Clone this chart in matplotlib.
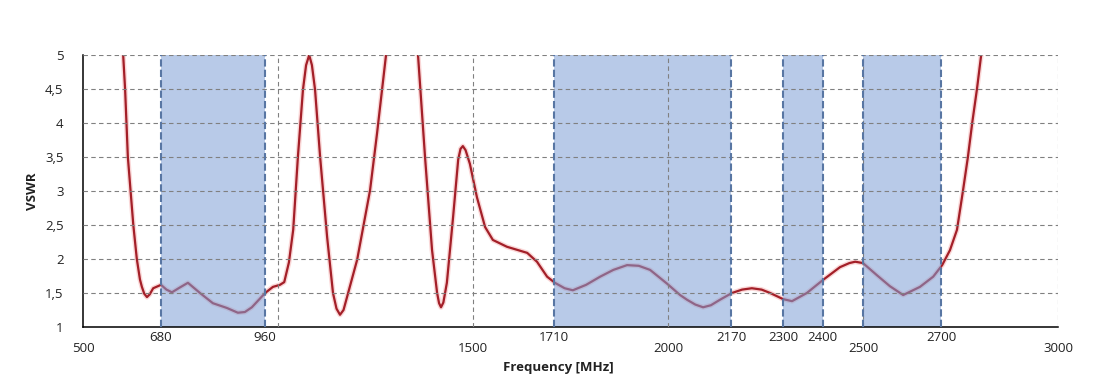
import numpy as np
import matplotlib
matplotlib.use('Agg')
import matplotlib.pyplot as plt
from matplotlib.ticker import FuncFormatter

plt.rcParams['font.family'] = ['Open Sans', 'DejaVu Sans']

# VSWR curve (MHz, VSWR); values above 5 are off-chart
freq = [590, 603, 608, 615, 622, 629, 638, 646, 651, 657, 664, 671, 680, 700, 714,
        728, 748, 769, 800, 833, 869, 897, 915, 933, 967, 987, 1005, 1016, 1028,
        1039, 1051, 1064, 1072, 1080, 1087, 1095, 1108, 1126, 1141, 1150, 1159,
        1168, 1177, 1203, 1236, 1254, 1277, 1300, 1320, 1340, 1359, 1377, 1395,
        1408, 1413, 1418, 1424, 1433, 1449, 1462, 1468, 1474, 1481, 1492, 1510,
        1531, 1551, 1587, 1639, 1664, 1690, 1710, 1735, 1756, 1790, 1826, 1860,
        1895, 1925, 1954, 1997, 2031, 2049, 2070, 2090, 2110, 2133, 2164, 2190,
        2215, 2240, 2262, 2295, 2318, 2356, 2397, 2441, 2465, 2480, 2500, 2536,
        2569, 2603, 2646, 2680, 2703, 2723, 2741, 2756, 2769, 2780, 2792, 2803,
        2815]
vswr = [6.0, 5.0, 4.49, 3.5, 3.0, 2.5, 2.0, 1.7, 1.59, 1.49, 1.44, 1.48, 1.57,
        1.62, 1.55, 1.51, 1.58, 1.65, 1.50, 1.35, 1.28, 1.21, 1.22, 1.29, 1.50,
        1.59, 1.62, 1.66, 1.95, 2.43, 3.5, 4.49, 4.85, 5.0, 4.85, 4.49, 3.5, 2.32,
        1.5, 1.27, 1.18, 1.25, 1.44, 1.99, 3.01, 3.85, 5.0, 6.2, 6.8, 6.2, 5.0,
        3.5, 2.13, 1.5, 1.35, 1.29, 1.36, 1.65, 2.62, 3.46, 3.62, 3.66, 3.6, 3.4,
        2.91, 2.47, 2.28, 2.18, 2.09, 1.96, 1.74, 1.65, 1.57, 1.54, 1.62, 1.74,
        1.84, 1.91, 1.90, 1.84, 1.64, 1.47, 1.40, 1.33, 1.29, 1.32, 1.40, 1.50,
        1.55, 1.57, 1.55, 1.50, 1.41, 1.38, 1.50, 1.69, 1.88, 1.94, 1.96, 1.94,
        1.76, 1.60, 1.47, 1.59, 1.74, 1.91, 2.13, 2.43, 2.99, 3.5, 4.0, 4.49,
        5.0, 6.0]

# shaded bands where the reference draws them, with their nominal labels
band_starts = [700, 1708, 2295, 2500]
band_ends = [967, 2162, 2397, 2700]
edge_pos = [700, 967, 1708, 2162, 2295, 2397, 2700]
edge_labels = ['680', '960', '1710', '2170', '2300', '2400', '2700']

main_ticks = [500, 1500, 2000, 2500, 3000]
grid_x = [1000, 1500, 2000, 2500, 3000]
y_ticks = [1, 1.5, 2, 2.5, 3, 3.5, 4, 4.5, 5]

fig = plt.figure(figsize=(11.1, 3.88), dpi=100)
ax = fig.add_axes([83 / 1110, 1 - 327 / 388, 975 / 1110, 272 / 388])

# curve with a faint glow
ax.plot(freq, vswr, color='#f6b0b0', lw=3.6, alpha=0.5, zorder=1.4,
        solid_capstyle='round', solid_joinstyle='round')
ax.plot(freq, vswr, color='#a31f28', lw=1.6, zorder=1.5,
        solid_joinstyle='round')

for s, e in zip(band_starts, band_ends):
    ax.axvspan(s, e, color='#7fa0d6', alpha=0.55, lw=0, zorder=2)
    for x in (s, e):
        ax.axvline(x, color='#5876a3', lw=1.5, ls=(0, (3.5, 1.5)), zorder=4)

for y in y_ticks[1:]:
    ax.axhline(y, color='#808080', lw=0.8, ls=(0, (4, 3)), zorder=3)
for x in grid_x:
    ax.axvline(x, color='#808080', lw=0.8, ls=(0, (4, 3)), zorder=3)

ax.set_xlim(500, 3000)
ax.set_ylim(1, 5)
ax.set_yticks(y_ticks)
ax.yaxis.set_major_formatter(FuncFormatter(lambda v, p: f'{v:g}'.replace('.', ',')))
ax.set_xticks(main_ticks)
ax.set_xticks(edge_pos, minor=True)
ax.set_xticklabels(edge_labels, minor=True)
ax.tick_params(axis='x', which='major', length=0, pad=11, labelsize=9.5,
               labelcolor='#222222')
ax.tick_params(axis='x', which='minor', length=0, pad=3, labelsize=9.5,
               labelcolor='#222222')
ax.tick_params(axis='y', length=0, pad=14, labelsize=9.5, labelcolor='#222222')

for side in ('top', 'right'):
    ax.spines[side].set_visible(False)
for side in ('left', 'bottom'):
    ax.spines[side].set_color('black')
    ax.spines[side].set_linewidth(1.1)

fig.text(558 / 1110, 1 - 367 / 388, 'Frequency [MHz]', ha='center', va='center',
         fontsize=9.5, fontweight='bold', color='#222222')
fig.text(32 / 1110, 1 - 191 / 388, 'VSWR', ha='center', va='center',
         rotation=90, fontsize=9.5, fontweight='bold', color='#222222')

fig.savefig('out.png', dpi=100)
